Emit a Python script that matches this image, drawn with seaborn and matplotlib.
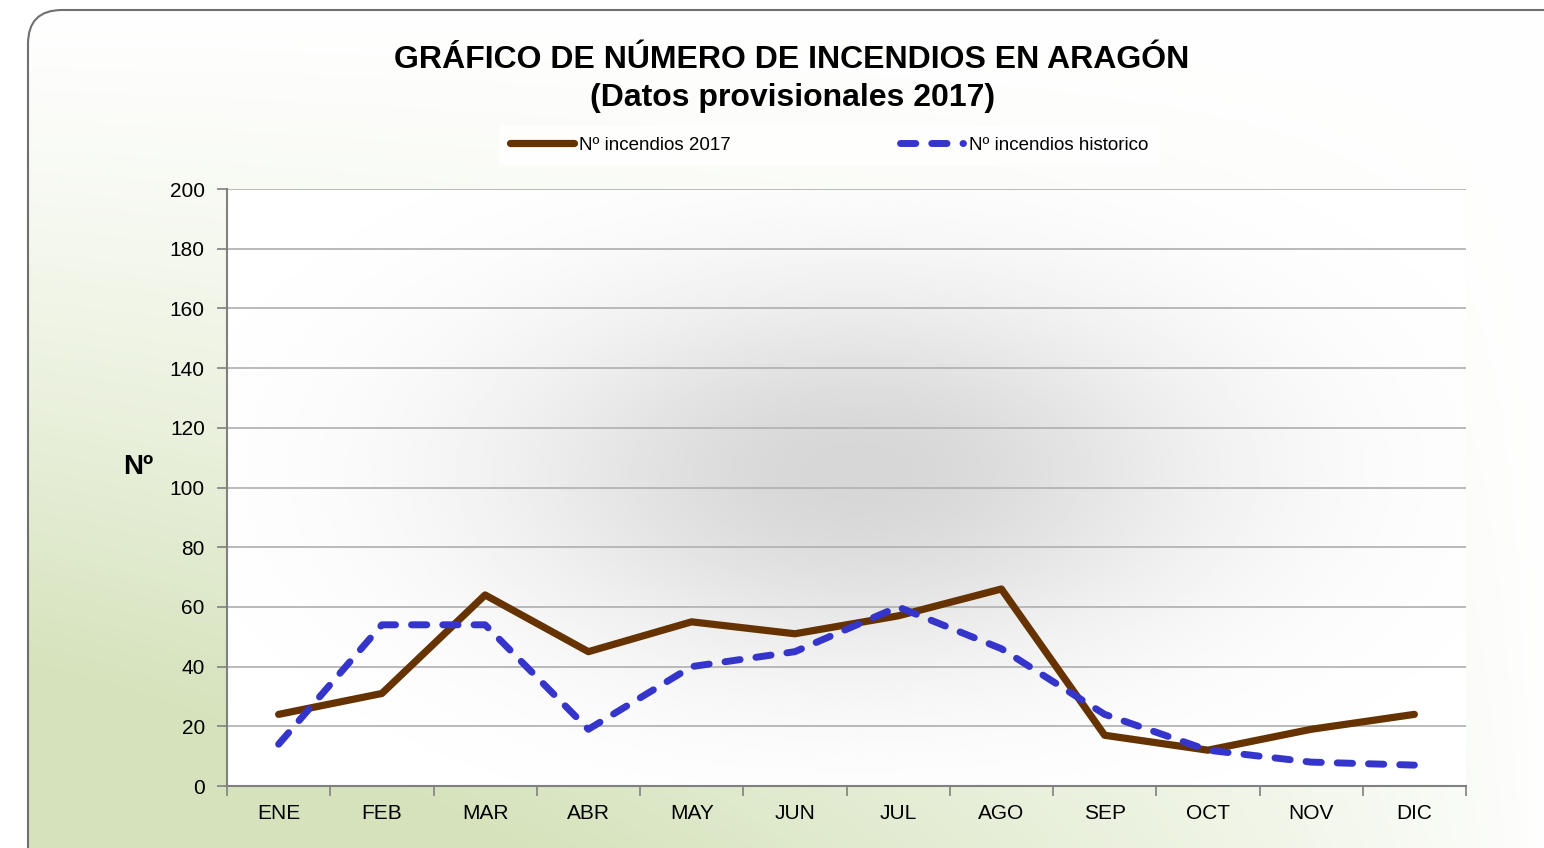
import numpy as np
import pandas as pd
import matplotlib
matplotlib.use("Agg")
import matplotlib.pyplot as plt
from matplotlib.patches import FancyBboxPatch
from matplotlib.lines import Line2D
import seaborn as sns

# Datos
meses = ["ENE", "FEB", "MAR", "ABR", "MAY", "JUN", "JUL", "AGO", "SEP", "OCT", "NOV", "DIC"]
incendios_2017 = [24, 31, 64, 45, 55, 51, 57, 66, 17, 12, 19, 24]
incendios_historico = [14, 54, 54, 19, 40, 45, 60, 46, 24, 12, 8, 7]
y_ticks = [0, 20, 40, 60, 80, 100, 120, 140, 160, 180, 200]

sns.set_theme(style="white")
plt.rcParams['font.family'] = ['Liberation Sans', 'DejaVu Sans']
plt.rcParams['text.color'] = 'black'
plt.rcParams['xtick.color'] = 'black'
plt.rcParams['ytick.color'] = 'black'
plt.rcParams['axes.labelcolor'] = 'black'

fig = plt.figure(figsize=(15.44, 8.48), dpi=100)
fig.patch.set_facecolor("white")

# Fondo del marco con degradado verde y esquina redondeada
bg = fig.add_axes([0, 0, 1, 1], zorder=-10)
bg.set_axis_off()
yy, xx = np.mgrid[0:1:300j, 0:1:600j]
g = np.clip((yy ** 1.3) * ((1 - xx) ** 0.8) * 1.4, 0, 1)
top = np.array([1.0, 1.0, 1.0])
green = np.array([0.84, 0.89, 0.74])
img = top[None, None, :] * (1 - g[..., None]) + green[None, None, :] * g[..., None]
im = bg.imshow(img, extent=(0, 1, 0, 1), origin="upper", aspect="auto")
bg.set_xlim(0, 1)
bg.set_ylim(0, 1)
frame = FancyBboxPatch((28 / 1544, -0.1), 1.2, (838 / 848) + 0.1,
                       boxstyle="round,pad=0,rounding_size=0.022",
                       transform=bg.transAxes, facecolor="none",
                       edgecolor="#707070", linewidth=1.5, mutation_aspect=1544 / 848)
bg.add_patch(frame)
im.set_clip_path(frame)

ax = fig.add_axes([227 / 1544, 62 / 848, (1466 - 227) / 1544, (786 - 189) / 848])

# Sombreado gris central del area de trazado
gy, gx = np.mgrid[0:200:200j, -0.5:11.5:400j]
shade = np.exp(-(((gx - 5.6) / 3.4) ** 2 + ((gy - 105) / 62) ** 2))
shade_rgb = 1 - 0.16 * shade
ax.imshow(shade_rgb, extent=(-0.5, 11.5, 0, 200), origin="lower", aspect="auto",
          cmap="gray", vmin=0, vmax=1, zorder=0)

df = pd.DataFrame({"mes": meses, "2017": incendios_2017, "historico": incendios_historico})

sns.lineplot(data=df, x="mes", y="historico", ax=ax, color="#3535cc",
             linewidth=5, zorder=3, sort=False)
ax.lines[-1].set_dashes([2.2, 2.3])
ax.lines[-1].set_dash_capstyle("round")
sns.lineplot(data=df, x="mes", y="2017", ax=ax, color="#663300",
             linewidth=5.2, zorder=2, sort=False)
ax.lines[-1].set_solid_capstyle("round")

ax.set_xlim(-0.5, 11.5)
ax.set_ylim(0, 200)
ax.set_yticks(y_ticks)
ax.set_yticklabels([str(v) for v in y_ticks], fontsize=15)
ax.set_xticks(np.arange(-0.5, 12, 1))
ax.set_xticklabels([])
ax.set_xticks(np.arange(12), minor=True)
ax.set_xticklabels(meses, minor=True, fontsize=15)
ax.tick_params(axis="x", which="minor", length=0, pad=13)
ax.tick_params(axis="x", which="major", length=7, width=1.2, color="#808080", direction="out", bottom=True)
ax.tick_params(axis="y", length=7, width=1.2, color="#808080", direction="out", left=True, pad=9)
ax.yaxis.grid(True, color="#b4b4b4", linewidth=1.3, zorder=1)
ax.set_axisbelow(True)
for s in ["top", "right"]:
    ax.spines[s].set_visible(False)
for s in ["left", "bottom"]:
    ax.spines[s].set_color("#808080")
    ax.spines[s].set_linewidth(1.5)
ax.set_xlabel("")
ax.set_ylabel("Nº", fontsize=20, fontweight="bold", rotation=0, va="center", ha="center")
ax.yaxis.set_label_coords(-0.072, 0.534)

fig.text(0.513, 0.929, "GRÁFICO DE NÚMERO DE INCENDIOS EN ARAGÓN", ha="center", va="center",
         fontsize=23, fontweight="bold")
fig.text(0.513, 0.884, "(Datos provisionales 2017)", ha="center", va="center",
         fontsize=23, fontweight="bold")

handles = [Line2D([], [], color="#663300", linewidth=5.2, solid_capstyle="round"),
           Line2D([], [], color="#3535cc", linewidth=5, dashes=[2.2, 2.3], dash_capstyle="round")]
leg = fig.legend(handles, ["Nº incendios 2017", "Nº incendios historico"], loc="center",
                 bbox_to_anchor=(0.537, 0.829), ncol=2, frameon=True, fontsize=13.5,
                 handlelength=3.4, handletextpad=0.3, columnspacing=9.0, borderpad=0.6)
leg.get_frame().set_facecolor("white")
leg.get_frame().set_edgecolor("none")
leg.get_frame().set_boxstyle("square,pad=0")

fig.savefig("out.png", dpi=100)
